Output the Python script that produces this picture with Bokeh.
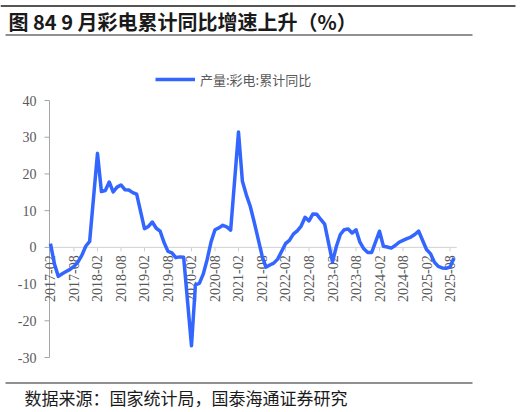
import math
from bokeh.plotting import figure
from bokeh.models import (Range1d, Label, BoxAnnotation, Legend, LegendItem,
                          ColumnDataSource)
from bokeh.core.properties import value
from bokeh.embed import file_html
from bokeh.resources import INLINE

# ---------------- data ----------------
years = [2017, 2018, 2019, 2020, 2021, 2022, 2023, 2024, 2025]
v2017 = [1.0, -4.5, -7.9, -7.2, -6.6, -6.0, -5.2, -4.0, -2.2, 0.3, 1.6]
v2018 = [25.6, 15.2, 15.5, 17.8, 15.1, 16.4, 17.0, 15.7, 15.6, 14.9, 14.5]
v2019 = [5.1, 5.7, 6.9, 5.2, 4.4, 1.3, -1.1, -1.5, -2.8, -2.6, -2.7]
v2020 = [-26.8, -10.2, -9.8, -7.3, -3.3, 1.5, 4.8, 5.3, 6.0, 5.6, 4.7]
v2021 = [31.4, 18.0, 14.3, 11.2, 6.9, 2.4, -2.2, -5.4, -4.8, -4.3, -3.2]
v2022 = [1.0, 1.9, 3.6, 4.5, 5.8, 8.2, 7.2, 9.1, 9.0, 7.6, 6.3]
v2023 = [-4.0, 0.3, 3.5, 4.8, 5.0, 3.9, 4.8, 1.4, -0.4, -1.4, -1.4]
v2024 = [4.4, 0.3, 0.1, -0.2, 0.5, 1.4, 1.9, 2.4, 2.8, 3.5, 4.4]
v2025 = [-0.6, -1.7, -4.0, -5.2, -5.6, -5.7, -5.4, -2.9]
series_by_year = [v2017, v2018, v2019, v2020, v2021, v2022, v2023, v2024, v2025]

tick_labels = ["2017-02", "2017-08", "2018-02", "2018-08", "2019-02", "2019-08",
               "2020-02", "2020-08", "2021-02", "2021-08", "2022-02", "2022-08",
               "2023-02", "2023-08", "2024-02", "2024-08", "2025-02", "2025-08"]
y_ticks = [-30, -20, -10, 0, 10, 20, 30, 40]

series_name = "产量:彩电:累计同比"
title_text = "图 84 9 月彩电累计同比增速上升（%）"
source_text = "数据来源：国家统计局，国泰海通证券研究"

# months counted from 2017-02 (Jan is merged into Jan-Feb, each year starts in Feb)
def month_index(label):
    y, m = label.split("-")
    return (int(y) - 2017) * 12 + (int(m) - 2)

dates, vals = [], []
for y, vs in zip(years, series_by_year):
    for i, v in enumerate(vs):
        dates.append(f"{y}-{i + 2:02d}")
        vals.append(v)
xs = [month_index(d) for d in dates]
tick_x = [month_index(t) for t in tick_labels]

# ---------------- layout constants ----------------
W, H = 524, 412
GREY = "#595959"
AXIS = "#A6A6A6"
SERIF = "Liberation Serif"
CJK = "Noto Sans CJK SC"
X_AXIS_START, X_AXIS_END = -0.25, 103.7      # extent of the axes in month units
PX_X = 3.917                                  # pixels per month
PX_Y = 257 / 70                               # pixels per unit on y
X0 = X_AXIS_START - 49 / PX_X
Y0 = -30 - 55 / PX_Y

p = figure(width=W, height=H, output_backend="svg", toolbar_location=None,
           x_range=Range1d(X0, X0 + W / PX_X), y_range=Range1d(Y0, Y0 + H / PX_Y),
           min_border=0, x_axis_type=None, y_axis_type=None)
p.outline_line_color = None
p.grid.visible = False
p.background_fill_color = "white"
p.border_fill_color = "white"

# y axis
p.segment(x0=[X_AXIS_START], y0=[min(y_ticks)], x1=[X_AXIS_START], y1=[max(y_ticks)],
          line_color=AXIS, line_width=1)
p.segment(x0=[X_AXIS_START] * len(y_ticks), y0=y_ticks,
          x1=[X_AXIS_START - 5 / PX_X] * len(y_ticks), y1=y_ticks,
          line_color=AXIS, line_width=1)
p.text(x=[X_AXIS_START] * len(y_ticks), y=y_ticks, text=[str(t) for t in y_ticks],
       text_align="right", text_baseline="middle", x_offset=-13,
       text_font=value(SERIF), text_font_size="14px", text_color=GREY)

# x axis along zero
p.segment(x0=[X_AXIS_START], y0=[0], x1=[X_AXIS_END], y1=[0],
          line_color="#D0D0D0", line_width=1)
p.segment(x0=tick_x, y0=[0] * len(tick_x), x1=tick_x,
          y1=[-4 / PX_Y] * len(tick_x), line_color="#D0D0D0", line_width=1)
p.text(x=tick_x, y=[0] * len(tick_x), text=tick_labels, angle=math.pi / 2,
       text_align="right", text_baseline="middle", y_offset=8,
       text_font=value(SERIF), text_font_size="14px", text_color=GREY)

src = ColumnDataSource(dict(x=xs, y=vals, d=dates))
r = p.line("x", "y", source=src, line_color="#3366FF", line_width=3.5,
           line_join="round")

legend = Legend(items=[LegendItem(label=series_name, renderers=[r])],
                location=(155, 323), glyph_width=40, glyph_height=20,
                label_text_font=CJK, label_text_font_size="13px",
                label_text_color=GREY, padding=0, margin=0, spacing=0,
                border_line_color=None, background_fill_alpha=0,
                label_standoff=5)
p.add_layout(legend, "center")

def rule(left, right, bottom, top, color):
    p.add_layout(BoxAnnotation(left=left, right=right, bottom=bottom, top=top,
                               left_units="screen", right_units="screen",
                               top_units="screen", bottom_units="screen",
                               fill_color=color, fill_alpha=1, line_color=None))

rule(0, 515, 405.5, 407.5, "#555555")
p.add_layout(Label(x=8, y=391, x_units="screen", y_units="screen",
                   text=title_text, text_font=CJK, text_font_size="20px",
                   text_font_style="bold", text_color="#1A1A1A",
                   text_baseline="middle"))
rule(5, 472, 377, 378, "#222222")
rule(5, 472, 29, 30, "#222222")
p.add_layout(Label(x=24, y=15, x_units="screen", y_units="screen",
                   text=source_text, text_font=CJK, text_font_size="17px",
                   text_color="#1A1A1A", text_baseline="middle"))

open("out.html", "w").write(file_html(p, INLINE))
